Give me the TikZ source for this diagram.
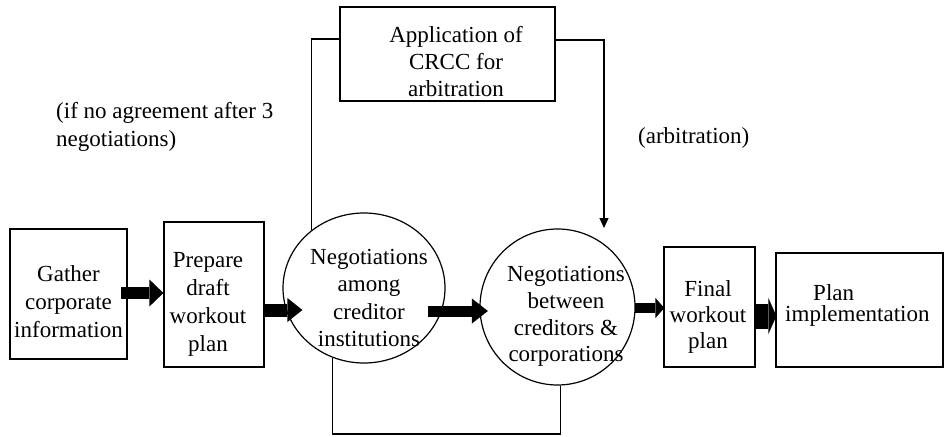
\documentclass[tikz,border=0pt]{standalone}
\usepackage{fontspec}
\setmainfont{Liberation Serif}
\usetikzlibrary{arrows.meta,shapes.geometric,calc}
\tikzset{
  box/.style={draw, line width=1.2pt, inner sep=0pt},
  bubble/.style={draw, ellipse, line width=1.2pt, inner sep=0pt},
  txt/.style={inner sep=0pt, align=center},
  thinline/.style={line width=1.2pt},
  blk/.style n args={3}{line width=#1, -{Triangle[length=#2, width=#3, line width=0pt]}},
}
\newcommand{\fs}[1]{\fontsize{23}{#1}\selectfont}
\begin{document}
\begin{tikzpicture}[x=1pt,y=-1pt]
\useasboundingbox (0,0) rectangle (944,436);
% boxes and bubbles
\node[box, minimum width=117pt, minimum height=130pt] (gather) at (68.5,294) {};
\node[box, minimum width=100pt, minimum height=145pt] (prep) at (214,294.5) {};
\node[bubble, minimum width=162pt, minimum height=150pt] (c1) at (364,288) {};
\node[bubble, minimum width=155pt, minimum height=156pt] (c2) at (557.5,307) {};
\node[box, minimum width=91pt, minimum height=120pt] (final) at (709.5,307) {};
\node[box, minimum width=167pt, minimum height=114pt] (plan) at (859.5,310) {};
\node[box, minimum width=215pt, minimum height=94pt] (crcc) at (447.5,54) {};
% texts
\node[txt, font=\fs{28}] (gathert) at (68.5,302) {Gather\\corporate\\information};
\node[txt, font=\fs{28}] (prept) at (208,304.7) {Prepare\\draft\\workout\\plan};
\node[txt, font=\fs{27.3}] (c1t) at (369,298) {Negotiations\\among\\creditor\\institutions};
\node[txt, font=\fs{26.7}] (c2t) at (566,316.5) {Negotiations\\between\\creditors \&\\corporations};
\node[txt, font=\fs{26}] (finalt) at (708,316.7) {Final\\workout\\plan};
\node[txt, align=left, font=\fs{21}, anchor=west] (plant) at (785,305) {\hspace*{28pt}Plan\\implementation};
\node[txt, font=\fs{27}] (crcct) at (456,62) {Application of\\CRCC for\\arbitration};
\node[txt, align=left, font=\fs{28}, anchor=west] (lab1) at (56,126.7) {(if no agreement after 3\\negotiations)};
\node[txt, font=\fs{27}, anchor=base west] (lab2) at (638,143) {(arbitration)};
% block arrows
\draw[blk={12pt}{14pt}{27pt}] ($(gather.east |- 0,293)+(-7,0)$) -- (prep.west |- 0,293);
\draw[blk={13pt}{15pt}{24pt}] (prep.east |- 0,310) -- ($(c1.west |- 0,310)+(20,0)$);
\draw[blk={11pt}{16pt}{25pt}] ($(c1.east |- 0,311)+(-18,0)$) -- ($(c2.west |- 0,311)+(8.5,0)$);
\draw[blk={10pt}{9pt}{20pt}] ($(c2.east |- 0,308)+(-1,0)$) -- ($(final.west |- 0,308)+(1,0)$);
\draw[blk={25pt}{8pt}{36pt}] (final.east |- 0,316) -- ($(plan.west |- 0,316)+(1,0)$);
% feedback lines
\coordinate (arbtip) at (604,228);
\draw[thinline] (c1.132) |- (crcc.west |- 0,39);
\draw[thinline, -{Triangle[length=10pt, width=9pt]}] (crcc.east |- 0,40) -| (arbtip);
\draw[thinline] (c1.246) |- (c2.272 |- 0,434) -- (c2.272);
\end{tikzpicture}
\end{document}
